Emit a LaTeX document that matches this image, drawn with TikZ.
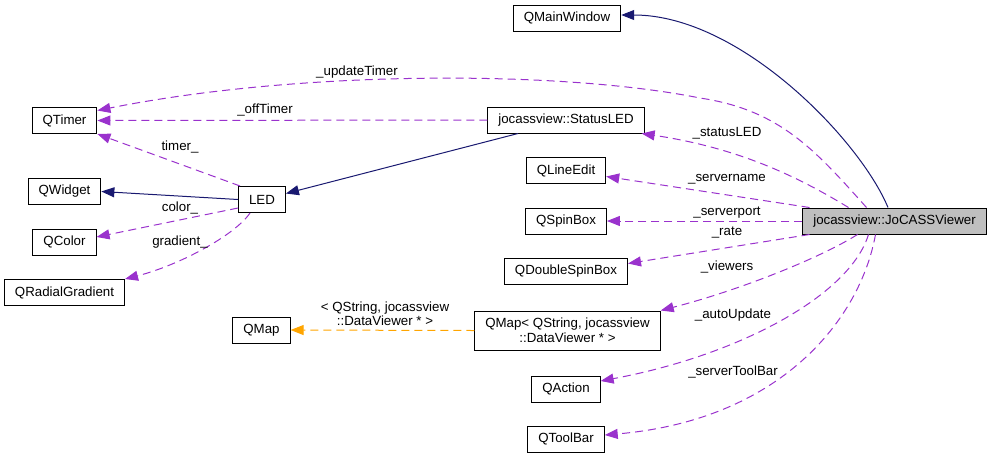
\documentclass[tikz,border=0pt]{standalone}
\usepackage{fontspec}
\setmainfont{Liberation Sans}
\usepackage{xcolor}
\usetikzlibrary{arrows.meta,positioning,calc}
\definecolor{navy}{HTML}{191970}
\definecolor{orchid}{HTML}{9A32CD}
\definecolor{tplorange}{HTML}{FFA500}

\begin{document}
\begin{tikzpicture}[x=1pt,y=-1pt,
    box/.style={draw,fill=white,line width=1pt,minimum height=26pt,inner xsep=10.5pt,font=\fontsize{13.3pt}{15pt}\selectfont},
    lbl/.style={font=\fontsize{13.3pt}{14pt}\selectfont,inner sep=0pt,align=center},
    inherit/.style={draw=navy,line width=1pt,-{Triangle[length=13pt,width=10pt]}},
    member/.style={draw=orchid,line width=1pt,dash pattern=on 8pt off 5pt,-{Triangle[length=13pt,width=10pt]}},
    templ/.style={draw=tplorange,line width=1pt,dash pattern=on 8pt off 5pt,-{Triangle[length=13pt,width=10pt]}}]
    % Frame
    \useasboundingbox (0,0) rectangle (995,459);

    % Main class and base
    \node[box,fill=gray!50] (viewer) at (894.5,221) {jocassview::JoCASSViewer};
    \node[box] (mainwin) at (567,18) {QMainWindow};

    % Member classes
    \foreach \name/\y/\txt in {status/120/jocassview::StatusLED, lineedit/170.5/QLineEdit,
        spinbox/221/QSpinBox, dspinbox/271.5/QDoubleSpinBox, action/389/QAction, toolbar/439/QToolBar} {
        \node[box] (\name) at (566,\y) {\txt};
    }
    \node[box,align=center,minimum height=39pt] (viewers) at (567.5,330.5) {QMap< QString, jocassview\\::DataViewer * >};

    % LED and its parts
    \foreach \name/\y/\txt in {timer/120.5/QTimer, widget/191.5/QWidget, color/242/QColor, radial/292.5/QRadialGradient} {
        \node[box] (\name) at (64.5,\y) {\txt};
    }
    \node[box] (led) at (262,199.5) {LED};
    \node[box] (qmap) at (261.5,330) {QMap};

    % Inheritance
    \draw[inherit] ([xshift=-6.5pt]viewer.north) .. controls (860,140) and (740,15) .. ([yshift=3pt]mainwin.east);
    \draw[inherit] ([xshift=-48pt]status.south) -- ([yshift=6pt]led.east);
    \draw[inherit] (led.west) -- (widget.east);

    % Members
    \draw[member] ([xshift=-28pt]viewer.north) .. controls (815,150) and (780,110) .. (700,98)
        .. controls (560,70) and (300,70) .. ([yshift=10pt]timer.east);
    \draw[member] (status.west) -- (timer.east);
    \draw[member] ([xshift=2pt]led.north west) -- (timer.south east);
    \draw[member] ([yshift=-8.5pt]led.west) -- ([yshift=5pt]color.east);
    \draw[member] ([xshift=-12pt]led.south) .. controls (235,235) and (180,265) .. (radial.north east);
    \draw[member] ([xshift=-46pt]viewer.north) .. controls (800,178) and (740,148) .. ([xshift=-3pt]status.south east);
    \draw[member] ([xshift=-85pt]viewer.north) -- ([yshift=-6pt]lineedit.east);
    \draw[member] (viewer.west) -- (spinbox.east);
    \draw[member] ([xshift=-85pt]viewer.south) -- ([yshift=8pt]dspinbox.east);
    \draw[member] ([xshift=-37pt]viewer.south) .. controls (820,258) and (740,290) .. (viewers.north east);
    \draw[member] ([xshift=-26pt]viewer.south) .. controls (850,295) and (740,355) .. ([yshift=8pt]action.east);
    \draw[member] ([xshift=-19pt]viewer.south) .. controls (860,320) and (780,420) .. ([yshift=4pt]toolbar.east);

    % Template instance
    \draw[templ] (viewers.west) -- (qmap.east);

    % Labels
    \foreach \name/\x/\y/\txt in {lupdate/357/72/\_updateTimer, loff/265/110/\_offTimer, ltimer/180/147/timer\_,
        lcolor/180/208/color\_, lgrad/180/242/gradient\_, lstatus/727/133/\_statusLED,
        lname/727/179/\_servername, lport/727/213/\_serverport, lrate/727/233/\_rate,
        lviewers/727/267/\_viewers, lauto/733/315/\_autoUpdate, ltool/733/372/\_serverToolBar} {
        \node[lbl] (\name) at (\x,\y) {\txt};
    }
    \node[lbl] (ltempl) at (385,314) {< QString, jocassview\\::DataViewer * >};
\end{tikzpicture}
\end{document}
